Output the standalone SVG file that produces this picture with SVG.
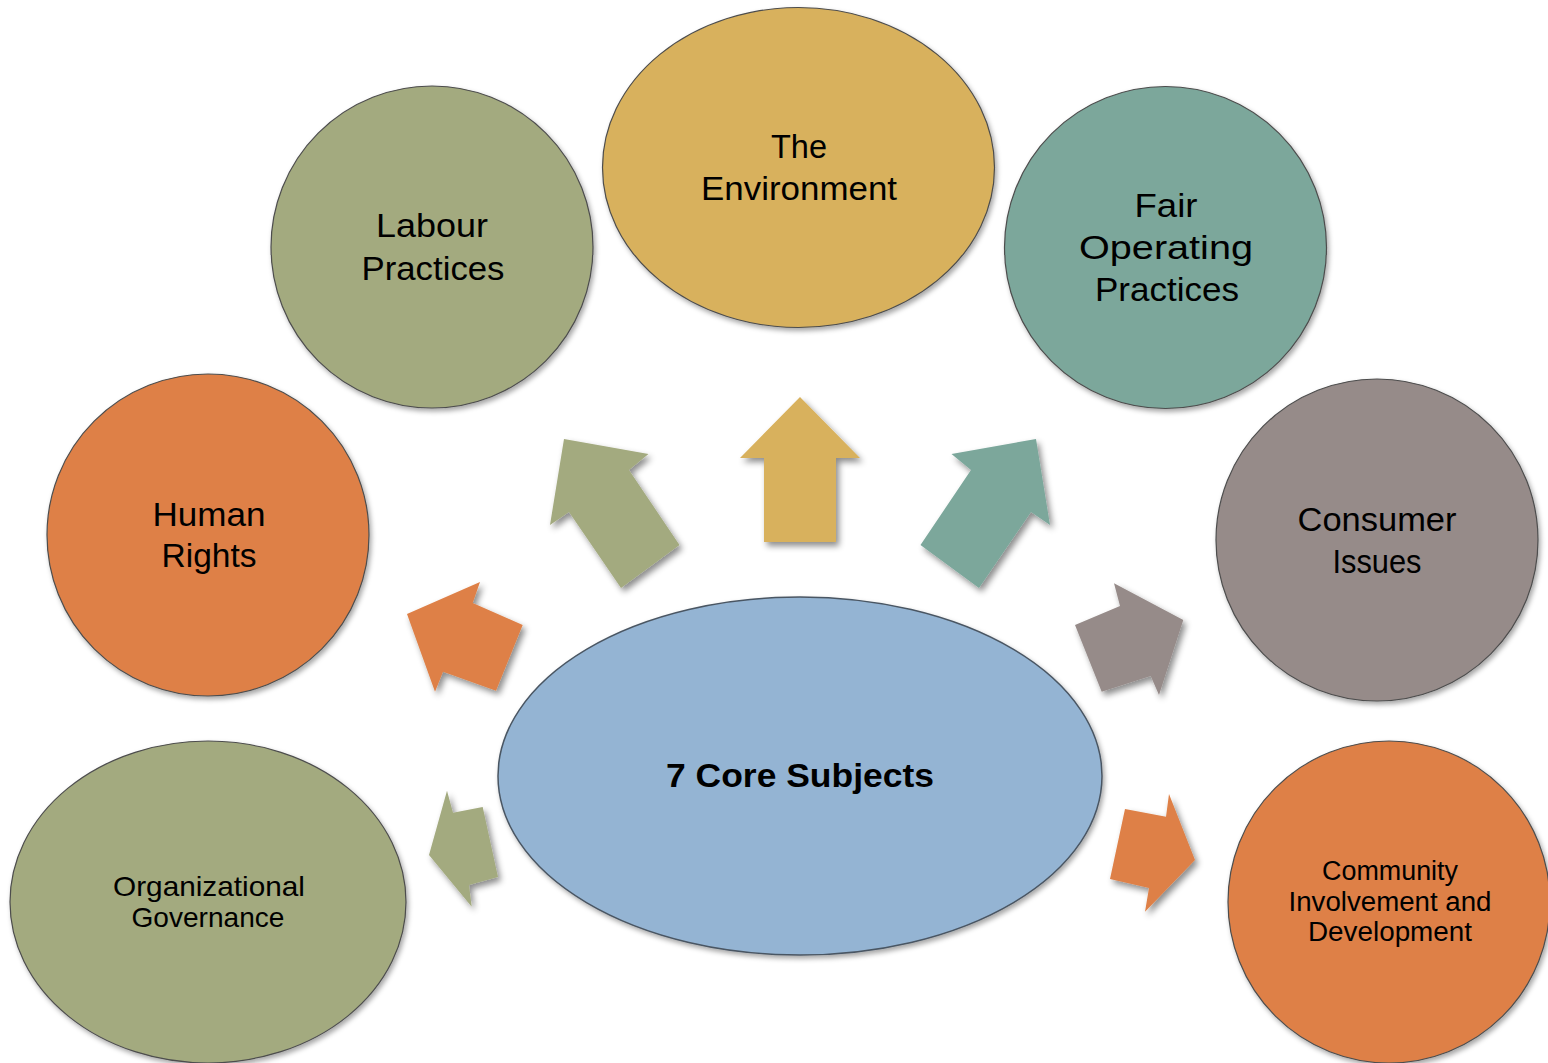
<svg xmlns="http://www.w3.org/2000/svg" width="1548" height="1063" viewBox="0 0 1548 1063">
  <defs>
    <filter id="shadow" x="-20%" y="-20%" width="140%" height="140%">
      <feDropShadow dx="3" dy="4" stdDeviation="3" flood-color="#000" flood-opacity="0.45"/>
    </filter>
    <filter id="cshadow" x="-10%" y="-10%" width="125%" height="125%">
      <feDropShadow dx="2" dy="3" stdDeviation="2.5" flood-color="#000" flood-opacity="0.35"/>
    </filter>
  </defs>
  <style>
    .node { stroke: #4d4d4d; stroke-width: 1.2; filter: url(#cshadow); }
    .arrow { filter: url(#shadow); stroke: none; }
    .lbl { font-family: "Liberation Sans", Arial, sans-serif; font-size: 34px; fill: #000; text-anchor: middle; }
    .sm { font-size: 27px; }
    .bold { font-weight: bold; }
    .green { fill: #A3AA7F; }
    .yellow { fill: #D8B15D; }
    .teal { fill: #7BA79B; }
    .orange { fill: #DE8047; }
    .gray { fill: #968B89; }
    .blue { fill: #94B4D3; }
  </style>
  <rect width="1548" height="1063" fill="#fff"/>

  <g id="connectors">
    <polygon class="arrow yellow" points="800,397 860,458 836,458 836,542 764,542 764,458 740,458"/>
    <polygon class="arrow green" points="564,439 648.5,454 629,470 679.5,545 621,588 569,512 550,525"/>
    <polygon class="arrow teal" points="1036,439 951.5,454 971,470 920.5,545 979,588 1031,512 1050,525"/>
    <polygon class="arrow orange" points="407,614 480,582 472.7,603 522.7,625 496,690.7 443,671.7 435,691.7"/>
    <polygon class="arrow green" points="429,855 447,790.7 453,812.7 482.7,807 498,877 469,885 471.7,906.7"/>
    <polygon class="arrow gray" points="1183.3,620 1114,583.3 1120,606 1075,625 1101.7,691.7 1150.7,676 1159,695"/>
    <polygon class="arrow orange" points="1195,860 1169,794 1166,816.7 1125,809 1110,879 1149,888 1145,911.7"/>
  </g>

  <g id="node-environment">
    <ellipse class="node yellow" cx="798.5" cy="167.5" rx="196" ry="160"/>
    <text class="lbl" x="799" y="158" textLength="56" lengthAdjust="spacingAndGlyphs">The</text>
    <text class="lbl" x="799" y="200" textLength="196" lengthAdjust="spacingAndGlyphs">Environment</text>
  </g>

  <g id="node-labour">
    <circle class="node green" cx="432" cy="247" r="161"/>
    <text class="lbl" x="432" y="237" textLength="112" lengthAdjust="spacingAndGlyphs">Labour</text>
    <text class="lbl" x="433" y="280" textLength="143" lengthAdjust="spacingAndGlyphs">Practices</text>
  </g>

  <g id="node-fair">
    <circle class="node teal" cx="1165.5" cy="247.5" r="161"/>
    <text class="lbl" x="1166" y="217" textLength="63" lengthAdjust="spacingAndGlyphs">Fair</text>
    <text class="lbl" x="1166" y="259" textLength="174" lengthAdjust="spacingAndGlyphs">Operating</text>
    <text class="lbl" x="1167" y="301" textLength="144" lengthAdjust="spacingAndGlyphs">Practices</text>
  </g>

  <g id="node-human">
    <circle class="node orange" cx="208" cy="535" r="161"/>
    <text class="lbl" x="209" y="526" textLength="113" lengthAdjust="spacingAndGlyphs">Human</text>
    <text class="lbl" x="209" y="567" textLength="95" lengthAdjust="spacingAndGlyphs">Rights</text>
  </g>

  <g id="node-consumer">
    <circle class="node gray" cx="1377" cy="540" r="161"/>
    <text class="lbl" x="1377" y="531" textLength="159" lengthAdjust="spacingAndGlyphs">Consumer</text>
    <text class="lbl" x="1377" y="573" textLength="89" lengthAdjust="spacingAndGlyphs">Issues</text>
  </g>

  <g id="node-governance">
    <ellipse class="node green" cx="208" cy="902" rx="198" ry="161"/>
    <text class="lbl" style="font-size:28px" x="209" y="896" textLength="192" lengthAdjust="spacingAndGlyphs">Organizational</text>
    <text class="lbl" style="font-size:28px" x="208" y="927" textLength="153" lengthAdjust="spacingAndGlyphs">Governance</text>
  </g>

  <g id="node-community">
    <circle class="node orange" cx="1389" cy="902" r="161"/>
    <text class="lbl sm" x="1390" y="880" textLength="136" lengthAdjust="spacingAndGlyphs">Community</text>
    <text class="lbl sm" x="1390" y="911" textLength="203" lengthAdjust="spacingAndGlyphs">Involvement and</text>
    <text class="lbl sm" x="1390" y="941" textLength="164" lengthAdjust="spacingAndGlyphs">Development</text>
  </g>

  <g id="node-core">
    <ellipse class="node blue" cx="800" cy="776" rx="302" ry="179" style="stroke:#4a5663;stroke-width:1.5"/>
    <text class="lbl bold" style="font-size:33px" x="800" y="787" textLength="268" lengthAdjust="spacingAndGlyphs">7 Core Subjects</text>
  </g>
</svg>
